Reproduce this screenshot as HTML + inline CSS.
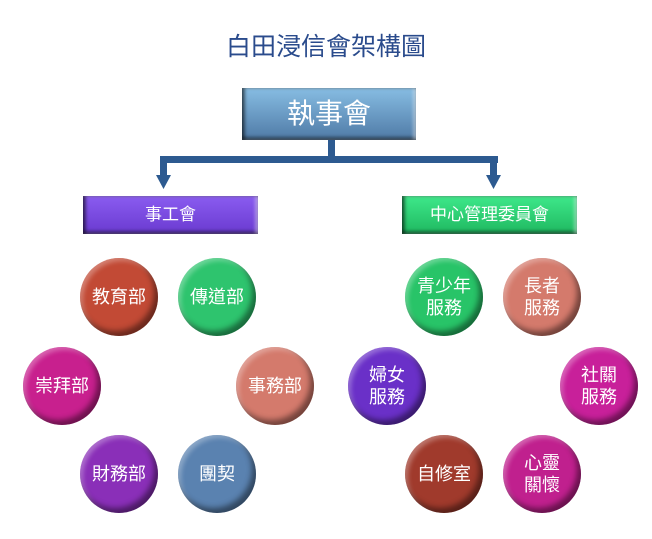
<!DOCTYPE html>
<html><head><meta charset="utf-8"><style>
body{margin:0;width:652px;height:539px;background:#fff;position:relative;overflow:hidden;font-family:"Liberation Sans","Noto Sans CJK TC",sans-serif}
.t{position:absolute;left:0;width:652px;top:27px;text-align:center;font-size:25px;color:#2a4b8c}
.box{position:absolute;color:#fff;text-align:center;box-shadow:inset 3px 0 3px rgba(0,0,0,.5),inset -3px 0 3px rgba(255,255,255,.4),inset 0 -3px 3px rgba(0,0,0,.45)}
.c{position:absolute;width:78px;height:78px;border-radius:50%;color:#fff;font-size:18px;display:flex;align-items:center;justify-content:center;text-align:center;line-height:22px;box-shadow:inset -4px -5px 6px rgba(0,0,0,.45),inset 3px 3px 5px rgba(255,255,255,.3)}
.bar{position:absolute;background:#2d5a90}
</style></head><body>
<div class="t">白田浸信會架構圖</div>
<div class="box" style="left:242px;top:88px;width:174px;height:52px;line-height:52px;font-size:28px;background:linear-gradient(#87bde3,#4f7aa6)">執事會</div>
<div class="bar" style="left:328px;top:140px;width:7px;height:20px"></div>
<div class="bar" style="left:160px;top:156px;width:338px;height:7px"></div>
<div class="bar" style="left:160px;top:156px;width:7px;height:20px"></div>
<div class="bar" style="left:490px;top:156px;width:7px;height:20px"></div>
<svg style="position:absolute;left:0;top:0" width="652" height="539"><polygon points="156,175 171,175 163.5,189" fill="#2d5a90"/><polygon points="486,175 501,175 493.5,189" fill="#2d5a90"/></svg>
<div class="box" style="left:83px;top:196px;width:175px;height:38px;line-height:38px;font-size:17px;background:linear-gradient(#8a5cf0,#6a3ad0)">事工會</div>
<div class="box" style="left:402px;top:196px;width:175px;height:38px;line-height:38px;font-size:17px;background:linear-gradient(#3ee88a,#1fb860)">中心管理委員會</div>

<div class="c" style="left:80px;top:258px;background:#c24a35">教育部</div>
<div class="c" style="left:178px;top:258px;background:#2ec46e">傳道部</div>
<div class="c" style="left:23px;top:347px;background:#c8208e">崇拜部</div>
<div class="c" style="left:236px;top:347px;background:#d47a6c">事務部</div>
<div class="c" style="left:80px;top:435px;background:#8a2fb8">財務部</div>
<div class="c" style="left:178px;top:435px;background:#5a82b0">團契</div>

<div class="c" style="left:405px;top:258px;background:#28c468">青少年<br>服務</div>
<div class="c" style="left:503px;top:258px;background:#d47a6c">長者<br>服務</div>
<div class="c" style="left:348px;top:347px;background:#6a30c8">婦女<br>服務</div>
<div class="c" style="left:560px;top:347px;background:#c8209a">社關<br>服務</div>
<div class="c" style="left:405px;top:435px;background:#a03a2c">自修室</div>
<div class="c" style="left:503px;top:435px;background:#c0208e">心靈<br>關懷</div>
</body></html>
